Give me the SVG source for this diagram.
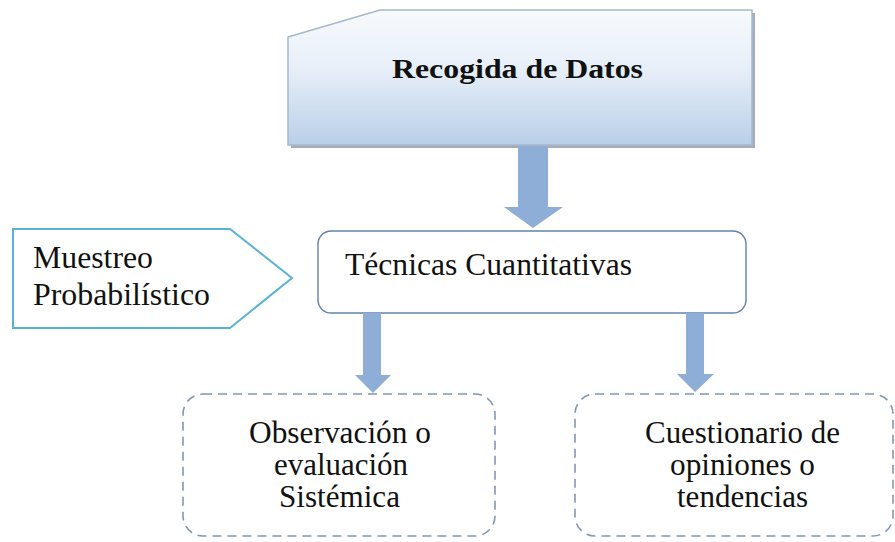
<svg xmlns="http://www.w3.org/2000/svg" width="895" height="542" viewBox="0 0 895 542">
  <defs>
    <linearGradient id="topGrad" x1="0" y1="0" x2="0" y2="1">
      <stop offset="0" stop-color="#f7fafd"/>
      <stop offset="0.45" stop-color="#e6eef8"/>
      <stop offset="1" stop-color="#b9cfe8"/>
    </linearGradient>
    <style>
      text { font-family: 'Liberation Serif', 'DejaVu Serif', 'Noto Serif', Tinos, 'Times New Roman', serif; fill: #111; }
      .lbl { font-size: 31px; }
      .arrow { fill: #8eaed8; stroke: none; }
      .dashed { fill: #fff; stroke: #8497b0; stroke-width: 1.6; stroke-dasharray: 9 6; }
    </style>
  </defs>
  <rect width="895" height="542" fill="#fff"/>

  <g id="recogida">
    <path d="M291,40 L383,13 L755,13 L755,148 L291,148 Z" fill="#a4adb8"/>
    <path d="M288,37 L380,10 L752,10 L752,145 L288,145 Z" fill="url(#topGrad)" stroke="#a7b8cb" stroke-width="1.5"/>
    <text x="392" y="78" font-size="28" font-weight="bold" textLength="251" lengthAdjust="spacingAndGlyphs">Recogida de Datos</text>
  </g>

  <g id="muestreo">
    <polygon points="13,229 230,229 292,278 230,328 13,328" fill="#fff" stroke="#5ab2d6" stroke-width="2"/>
    <text class="lbl" x="33" y="268" textLength="120" lengthAdjust="spacingAndGlyphs">Muestreo</text>
    <text class="lbl" x="33" y="305" textLength="177" lengthAdjust="spacingAndGlyphs">Probabilístico</text>
  </g>

  <g id="tecnicas">
    <rect x="318" y="231" width="428" height="82" rx="13" ry="13" fill="#fff" stroke="#6382aa" stroke-width="1.4"/>
    <text x="345" y="275" font-size="32" textLength="287" lengthAdjust="spacingAndGlyphs">Técnicas Cuantitativas</text>
  </g>

  <g id="observacion">
    <rect class="dashed" x="183" y="394" width="312" height="142" rx="20" ry="20"/>
    <text class="lbl" x="249" y="443" textLength="182" lengthAdjust="spacingAndGlyphs">Observación o</text>
    <text class="lbl" x="274" y="475" textLength="134" lengthAdjust="spacingAndGlyphs">evaluación</text>
    <text class="lbl" x="279" y="507" textLength="121" lengthAdjust="spacingAndGlyphs">Sistémica</text>
  </g>

  <g id="cuestionario">
    <rect class="dashed" x="575" y="394" width="318" height="142" rx="20" ry="20"/>
    <text class="lbl" x="645" y="443" textLength="195" lengthAdjust="spacingAndGlyphs">Cuestionario de</text>
    <text class="lbl" x="670" y="475" textLength="145" lengthAdjust="spacingAndGlyphs">opiniones o</text>
    <text class="lbl" x="677" y="507" textLength="131" lengthAdjust="spacingAndGlyphs">tendencias</text>
  </g>

  <g id="connectors">
    <polygon class="arrow" points="518,146 548,146 548,207 563,207 533,228 504,207 518,207"/>
    <polygon class="arrow" points="363,313 381,313 381,375 391,375 373,393 355,375 363,375"/>
    <polygon class="arrow" points="686,313 704,313 704,374 714,374 695,392 677,374 686,374"/>
  </g>
</svg>
